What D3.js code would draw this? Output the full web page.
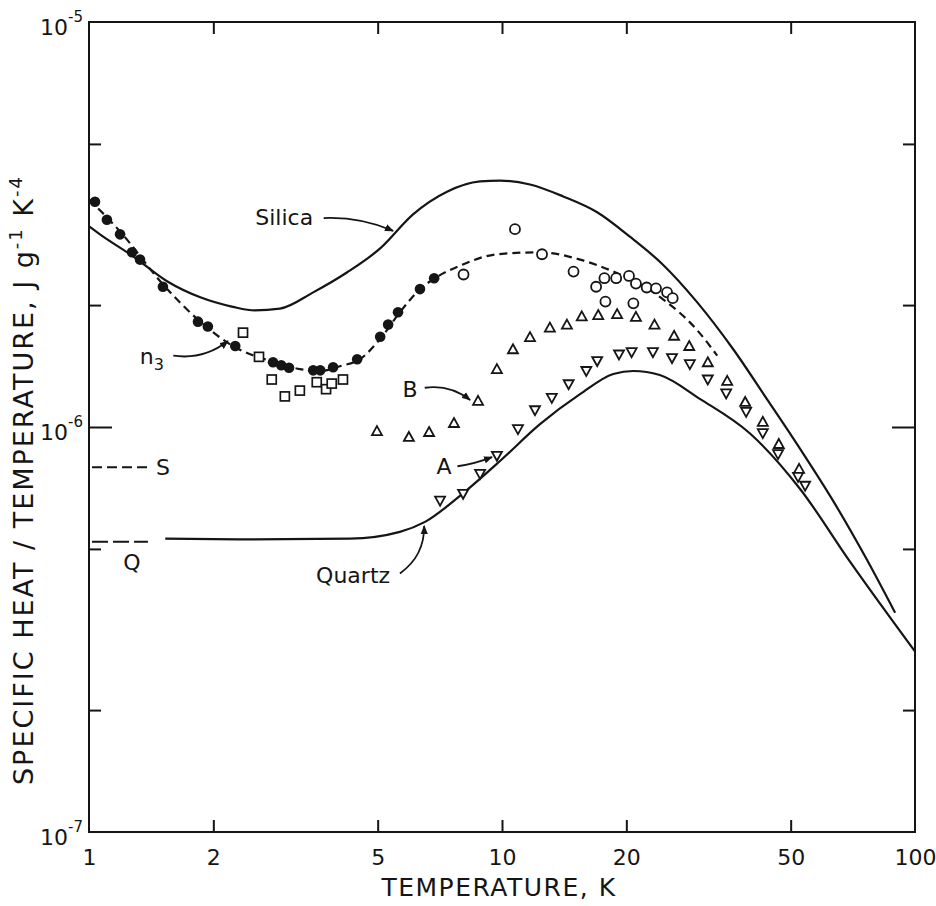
<!DOCTYPE html>
<html>
<head>
<meta charset="utf-8">
<script src="https://cdn.jsdelivr.net/npm/d3@7"></script>
<style>
  body { margin: 0; background: #fff; }
  text { font-family: "DejaVu Sans", sans-serif; fill: #151515; }
  .axis path { display: none; }
  .axis line { stroke: #151515; stroke-width: 2; }
</style>
</head>
<body>
<div id="chart"></div>
<script>
// curves: [temperature K, C/T^3 in J g^-1 K^-4]
const silicaCurve = [
  [1, 3.13e-6], [1.063, 2.99e-6], [1.278, 2.64e-6], [1.545, 2.29e-6], [1.86, 2.09e-6],
  [2.23, 1.98e-6], [2.52, 1.94e-6], [2.9, 1.96e-6], [3.49, 2.15e-6], [4.22, 2.41e-6],
  [5.07, 2.76e-6], [6.09, 3.35e-6], [7.36, 3.81e-6], [8.85, 4.04e-6], [9.89, 4.06e-6],
  [11.69, 3.97e-6], [14.06, 3.71e-6], [17.0, 3.39e-6], [20.4, 2.95e-6], [24.5, 2.52e-6],
  [29.6, 2.04e-6], [36.3, 1.556e-6], [43.8, 1.172e-6], [52.7, 8.83e-7], [63.3, 6.58e-7],
  [76.5, 4.7e-7], [89.5, 3.48e-7]
];
const quartzCurve = [
  [1.53, 5.3e-7], [2.45, 5.28e-7], [4.28, 5.3e-7], [5.66, 5.51e-7], [6.51, 5.83e-7],
  [7.91, 6.76e-7], [9.89, 8.24e-7], [12.36, 1.016e-6], [15.45, 1.205e-6], [18.6, 1.352e-6],
  [20.8, 1.375e-6], [24.1, 1.344e-6], [30.2, 1.172e-6], [39.8, 9.65e-7], [52.7, 7.03e-7],
  [69.6, 4.65e-7], [100, 2.79e-7]
];
const n3Curve = [
  [1, 3.65e-6], [1.189, 3.04e-6], [1.51, 2.25e-6], [1.86, 1.82e-6], [2.23, 1.585e-6],
  [2.74, 1.456e-6], [3.24, 1.39e-6], [3.63, 1.375e-6], [4.05, 1.413e-6], [4.53, 1.47e-6],
  [5.07, 1.65e-6], [5.66, 1.92e-6], [6.33, 2.19e-6], [6.88, 2.33e-6], [8.04, 2.52e-6],
  [9.72, 2.67e-6], [12.36, 2.7e-6], [15.45, 2.59e-6], [18.6, 2.42e-6], [24.5, 2.07e-6],
  [29.6, 1.74e-6], [33.2, 1.5e-6]
];

// measured points
const n3Points = [
  [1.034, 3.6e-6], [1.105, 3.25e-6], [1.189, 2.99e-6], [1.271, 2.7e-6], [1.329, 2.59e-6],
  [1.51, 2.22e-6], [1.836, 1.82e-6], [1.94, 1.77e-6], [2.26, 1.585e-6], [2.79, 1.445e-6],
  [2.92, 1.42e-6], [3.05, 1.4e-6], [3.49, 1.38e-6], [3.63, 1.38e-6], [3.9, 1.405e-6],
  [4.46, 1.47e-6], [5.07, 1.67e-6], [5.3, 1.79e-6], [5.6, 1.92e-6], [6.33, 2.19e-6],
  [6.85, 2.33e-6]
];
const squarePoints = [
  [2.36, 1.71e-6], [2.58, 1.49e-6], [2.77, 1.31e-6], [2.98, 1.19e-6], [3.24, 1.23e-6],
  [3.56, 1.29e-6], [3.75, 1.24e-6], [3.87, 1.28e-6], [4.12, 1.31e-6]
];
const circlePoints = [
  [10.75, 3.08e-6], [8.07, 2.38e-6], [12.5, 2.67e-6], [14.9, 2.42e-6], [16.9, 2.22e-6],
  [17.7, 2.33e-6], [18.9, 2.33e-6], [20.3, 2.36e-6], [21.1, 2.26e-6], [22.4, 2.21e-6],
  [23.6, 2.2e-6], [25.1, 2.15e-6], [25.9, 2.08e-6], [17.8, 2.04e-6], [20.8, 2.02e-6]
];
const sampleB = [
  [4.98, 9.77e-7], [5.95, 9.45e-7], [6.66, 9.72e-7], [7.65, 1.023e-6], [8.75, 1.16e-6],
  [9.72, 1.39e-6], [10.63, 1.556e-6], [11.69, 1.667e-6], [13.06, 1.76e-6], [14.36, 1.79e-6],
  [15.6, 1.875e-6], [17.1, 1.89e-6], [19.0, 1.9e-6], [21.1, 1.87e-6], [23.4, 1.79e-6],
  [26.1, 1.68e-6], [28.4, 1.585e-6], [31.5, 1.445e-6], [35.1, 1.3e-6], [38.8, 1.153e-6],
  [42.8, 1.03e-6], [46.8, 9.08e-7], [52.4, 7.88e-7]
];
const sampleA = [
  [7.08, 6.58e-7], [8.05, 6.84e-7], [8.85, 7.66e-7], [9.72, 8.49e-7], [10.93, 9.88e-7],
  [12.02, 1.1e-6], [13.2, 1.18e-6], [14.5, 1.275e-6], [16.0, 1.375e-6], [17.0, 1.455e-6],
  [19.2, 1.51e-6], [20.6, 1.53e-6], [23.2, 1.53e-6], [25.8, 1.48e-6], [28.5, 1.43e-6],
  [31.5, 1.31e-6], [34.9, 1.21e-6], [39.0, 1.09e-6], [42.8, 9.66e-7], [46.6, 8.57e-7],
  [52.1, 7.53e-7], [54.2, 7.16e-7]
];

// Debye limits marked on the left edge
const debyeS = 7.95e-7;
const debyeQ = 5.21e-7;

// axes
const xTickValues = [1, 2, 5, 10, 20, 50, 100];
const yDecades = [1e-7, 1e-6, 1e-5];
const yMinor = [2e-7, 5e-7, 2e-6, 5e-6];

const width = 936, height = 906;
const margin = { top: 22, right: 21, bottom: 74, left: 89 };
const w = width - margin.left - margin.right;
const h = height - margin.top - margin.bottom;
const ink = "#151515";

const svg = d3.select("#chart").append("svg")
  .attr("width", width)
  .attr("height", height);

svg.append("defs").append("marker")
  .attr("id", "arrow")
  .attr("viewBox", "0 0 10 10")
  .attr("refX", 9).attr("refY", 5)
  .attr("markerWidth", 9).attr("markerHeight", 9)
  .attr("markerUnits", "userSpaceOnUse")
  .attr("orient", "auto")
  .append("path")
    .attr("d", "M0,1 L10,5 L0,9 Z")
    .attr("fill", ink);

const plot = svg.append("g")
  .attr("transform", "translate(" + margin.left + "," + margin.top + ")");

const x = d3.scaleLog().domain([1, 100]).range([0, w]);
const y = d3.scaleLog().domain([1e-7, 1e-5]).range([h, 0]);

// frame
plot.append("rect")
  .attr("width", w).attr("height", h)
  .attr("fill", "none").attr("stroke", ink).attr("stroke-width", 2);

// tick marks, pointing inward
const xInner = xTickValues.slice(1, -1);
plot.append("g").attr("class", "axis")
  .attr("transform", "translate(0," + h + ")")
  .call(d3.axisBottom(x).tickValues(xInner).tickSize(-12).tickFormat(""));
plot.append("g").attr("class", "axis")
  .call(d3.axisTop(x).tickValues(xInner).tickSize(-12).tickFormat(""));
plot.append("g").attr("class", "axis")
  .call(d3.axisLeft(y).tickValues(yMinor).tickSize(-12).tickFormat(""));
plot.append("g").attr("class", "axis")
  .call(d3.axisLeft(y).tickValues([1e-6]).tickSize(-23).tickFormat(""));
plot.append("g").attr("class", "axis")
  .attr("transform", "translate(" + w + ",0)")
  .call(d3.axisRight(y).tickValues(yMinor).tickSize(-12).tickFormat(""));
plot.append("g").attr("class", "axis")
  .attr("transform", "translate(" + w + ",0)")
  .call(d3.axisRight(y).tickValues([1e-6]).tickSize(-23).tickFormat(""));

// tick labels
const xLab = plot.append("g").attr("class", "axis")
  .attr("transform", "translate(0," + h + ")")
  .call(d3.axisBottom(x).tickValues(xTickValues).tickSize(0).tickPadding(17)
    .tickFormat(d => String(d)));
xLab.selectAll("text").attr("font-size", 22).attr("font-family", "DejaVu Sans");

const yLab = plot.append("g").attr("class", "axis")
  .call(d3.axisLeft(y).tickValues(yDecades).tickSize(0).tickPadding(6)
    .tickFormat(""));
yLab.selectAll(".tick text")
  .attr("font-size", 22).attr("font-family", "DejaVu Sans").attr("dy", "0.55em")
  .each(function(d) {
    const t = d3.select(this);
    t.append("tspan").text("10");
    t.append("tspan").attr("font-size", 15).attr("dy", "-0.85em")
      .text("-" + Math.round(-Math.log10(d)));
  });

// axis titles
svg.append("text")
  .attr("x", margin.left + x(10) - 3).attr("y", 896)
  .attr("text-anchor", "middle").attr("font-size", 25).attr("letter-spacing", 1.5)
  .text("TEMPERATURE, K");

const yt = svg.append("text")
  .attr("transform", "translate(33,480) rotate(-90)")
  .attr("text-anchor", "middle").attr("font-size", 27).attr("letter-spacing", 2);
yt.append("tspan").text("SPECIFIC HEAT / TEMPERATURE,  J g");
yt.append("tspan").attr("font-size", 18).attr("dy", -11).text("-1");
yt.append("tspan").attr("dy", 11).text(" K");
yt.append("tspan").attr("font-size", 18).attr("dy", -11).text("-4");

// curves
const line = d3.line()
  .x(d => x(d[0]))
  .y(d => y(d[1]))
  .curve(d3.curveMonotoneX);

plot.append("path").datum(silicaCurve)
  .attr("d", line).attr("fill", "none").attr("stroke", ink).attr("stroke-width", 2.2);
plot.append("path").datum(quartzCurve)
  .attr("d", line).attr("fill", "none").attr("stroke", ink).attr("stroke-width", 2.2);
plot.append("path").datum(n3Curve)
  .attr("d", line).attr("fill", "none").attr("stroke", ink).attr("stroke-width", 2.2)
  .attr("stroke-dasharray", "8,5");

// S and Q marks at the left edge
plot.append("line")
  .attr("x1", x(1.017)).attr("x2", x(1.389))
  .attr("y1", y(debyeS)).attr("y2", y(debyeS))
  .attr("stroke", ink).attr("stroke-width", 2).attr("stroke-dasharray", "10,5");
plot.append("line")
  .attr("x1", x(1.017)).attr("x2", x(1.389))
  .attr("y1", y(debyeQ)).attr("y2", y(debyeQ))
  .attr("stroke", ink).attr("stroke-width", 2).attr("stroke-dasharray", "16,5");

// markers
plot.append("g").selectAll("circle")
  .data(n3Points).enter().append("circle")
    .attr("cx", d => x(d[0])).attr("cy", d => y(d[1]))
    .attr("r", 5.3).attr("fill", ink);

plot.append("g").selectAll("rect")
  .data(squarePoints).enter().append("rect")
    .attr("x", d => x(d[0]) - 4.5).attr("y", d => y(d[1]) - 4.5)
    .attr("width", 9).attr("height", 9)
    .attr("fill", "#fff").attr("stroke", ink).attr("stroke-width", 1.7);

plot.append("g").selectAll("circle")
  .data(circlePoints).enter().append("circle")
    .attr("cx", d => x(d[0])).attr("cy", d => y(d[1]))
    .attr("r", 5).attr("fill", "#fff").attr("stroke", ink).attr("stroke-width", 1.8);

const tri = "M0,-5 L5,4 L-5,4 Z";
plot.append("g").selectAll("path")
  .data(sampleB).enter().append("path")
    .attr("d", tri)
    .attr("transform", d => "translate(" + x(d[0]) + "," + y(d[1]) + ")")
    .attr("fill", "#fff").attr("stroke", ink).attr("stroke-width", 1.8);

plot.append("g").selectAll("path")
  .data(sampleA).enter().append("path")
    .attr("d", tri)
    .attr("transform", d => "translate(" + x(d[0]) + "," + y(d[1]) + ") rotate(180)")
    .attr("fill", "#fff").attr("stroke", ink).attr("stroke-width", 1.8);

// labels and pointers, anchored in data units
const labels = [
  { text: "Silica", at: [2.97, 3.3e-6], from: [3.7, 3.28e-6], to: [5.45, 3.05e-6], bend: -4 },
  { text: "n", sub: "3", at: [1.42, 1.5e-6], from: [1.6, 1.5e-6], to: [2.17, 1.63e-6], bend: 6 },
  { text: "B", at: [5.99, 1.24e-6], from: [6.5, 1.25e-6], to: [8.37, 1.166e-6], bend: -5 },
  { text: "A", at: [7.24, 8.02e-7], from: [7.8, 8.0e-7], to: [9.46, 8.43e-7], bend: 1 },
  { text: "S", at: [1.51, 7.97e-7] },
  { text: "Q", at: [1.27, 4.65e-7] },
  { text: "Quartz", at: [4.36, 4.3e-7], from: [5.66, 4.35e-7], to: [6.48, 5.7e-7], bend: 7 }
];

labels.forEach(function(l) {
  const t = plot.append("text")
    .attr("x", x(l.at[0])).attr("y", y(l.at[1]))
    .attr("dy", "0.36em").attr("text-anchor", "middle").attr("font-size", 22)
    .text(l.text);
  if (l.sub) {
    t.append("tspan").attr("font-size", 16).attr("dy", 6).text(l.sub);
  }
  if (l.from) {
    const x0 = x(l.from[0]), y0 = y(l.from[1]);
    const x1 = x(l.to[0]), y1 = y(l.to[1]);
    const len = Math.hypot(x1 - x0, y1 - y0);
    const cx = (x0 + x1) / 2 - (y1 - y0) / len * l.bend * 2;
    const cy = (y0 + y1) / 2 + (x1 - x0) / len * l.bend * 2;
    plot.append("path")
      .attr("d", "M" + x0 + "," + y0 + " Q" + cx + "," + cy + " " + x1 + "," + y1)
      .attr("fill", "none").attr("stroke", ink).attr("stroke-width", 1.8)
      .attr("marker-end", "url(#arrow)");
  }
});
</script>
</body>
</html>
